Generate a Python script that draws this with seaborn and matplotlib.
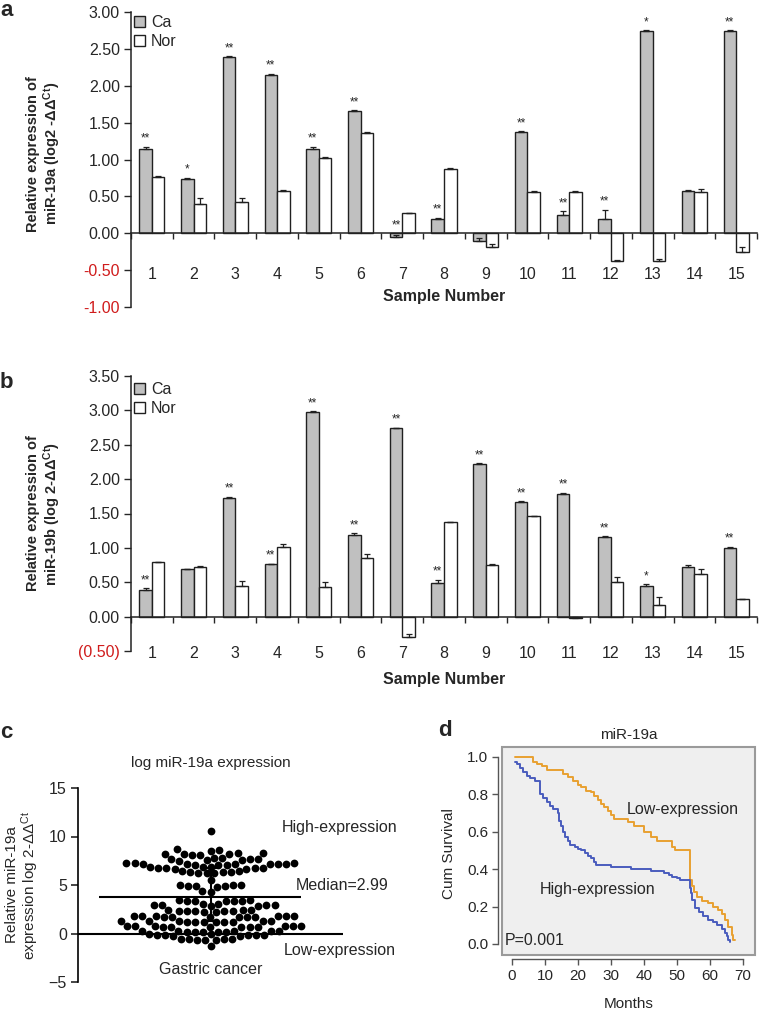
import numpy as np
import pandas as pd
import matplotlib
matplotlib.use("Agg")
import matplotlib.pyplot as plt
import seaborn as sns

samples = [str(i) for i in range(1, 16)]

# panel a - miR-19a, cancer vs normal
ca_19a = [1.14, 0.74, 2.39, 2.15, 1.14, 1.66, -0.05, 0.20, -0.10, 1.37, 0.25, 0.20, 2.74, 0.57, 2.74]
nor_19a = [0.76, 0.40, 0.42, 0.57, 1.02, 1.36, 0.27, 0.87, -0.18, 0.56, 0.56, -0.38, -0.38, 0.56, -0.25]
ca_19a_err = [0.03, 0.01, 0.01, 0.01, 0.03, 0.01, 0.03, 0.01, 0.04, 0.01, 0.05, 0.12, 0.01, 0.01, 0.01]
nor_19a_err = [0.01, 0.08, 0.06, 0.01, 0.01, 0.01, 0.01, 0.01, 0.04, 0.01, 0.01, 0.02, 0.03, 0.04, 0.07]
stars_19a = ["**", "*", "**", "**", "**", "**", "**", "**", "", "**", "**", "**", "*", "", "**"]

# panel b - miR-19b
ca_19b = [0.39, 0.69, 1.73, 0.76, 2.98, 1.19, 2.74, 0.49, 2.22, 1.67, 1.79, 1.16, 0.45, 0.72, 1.00]
nor_19b = [0.79, 0.72, 0.45, 1.01, 0.43, 0.85, -0.29, 1.37, 0.75, 1.46, -0.02, 0.51, 0.17, 0.62, 0.25]
ca_19b_err = [0.02, 0.01, 0.01, 0.01, 0.01, 0.02, 0.01, 0.05, 0.01, 0.01, 0.01, 0.01, 0.02, 0.03, 0.02]
nor_19b_err = [0.01, 0.01, 0.07, 0.05, 0.07, 0.06, 0.04, 0.01, 0.01, 0.01, 0.02, 0.07, 0.12, 0.08, 0.01]
stars_19b = ["**", "", "**", "**", "**", "**", "**", "**", "**", "**", "**", "**", "*", "", "**"]

# panel c - log miR-19a expression in gastric cancer
expr_19a = [
    10.6,
    8.5, 8.6, 8.7,
    8.1, 8.2, 8.3, 8.2, 8.1, 8.3, 8.2,
    7.6, 7.7, 7.8, 7.6, 7.7, 7.5, 7.7, 7.8,
    7.1, 7.2, 7.3, 7.2, 7.1, 7.3, 7.2, 7.2, 7.1, 7.3, 7.2, 7.2,
    6.8, 6.9, 6.7, 6.8, 6.9, 6.8, 6.7, 6.8, 6.9,
    6.2, 6.3, 6.4, 6.3, 6.2, 6.3, 6.4, 6.2,
    5.5,
    4.9, 5.0, 4.9, 5.0, 4.8, 5.0, 4.9,
    4.4, 4.3,
    3.4, 3.3, 3.5, 3.4, 3.3, 3.4, 3.5,
    2.9, 3.0, 2.8, 2.9, 3.0, 2.9, 2.8, 2.9,
    2.3, 2.4, 2.2, 2.3, 2.4, 2.3, 2.2, 2.3, 2.4, 2.3,
    1.7, 1.8, 1.7, 1.8, 1.7, 1.8, 1.7, 1.8, 1.7, 1.8, 1.7, 1.8,
    1.2, 1.3, 1.2, 1.3, 1.2, 1.3, 1.2, 1.3, 1.2, 1.3, 1.2,
    0.7, 0.8, 0.7, 0.8, 0.7, 0.8, 0.7, 0.8, 0.7, 0.8, 0.7, 0.8,
    0.2, 0.3, 0.2, 0.3, 0.2, 0.3, 0.2, 0.3, 0.2, 0.3,
    -0.2, -0.1, -0.2, -0.3, -0.2, -0.1, -0.2, -0.3, -0.2,
    -0.6, -0.7, -0.6, -0.7, -0.6, -0.7, -0.6,
    -1.3,
]
median_19a = 3.8
iqr_19a = [1.3, 6.8]

# panel d - Kaplan-Meier, miR-19a
low_months = [1, 6.5, 7.5, 9, 10.5, 15.5, 17, 18.5, 20, 21, 22.5, 24, 25, 26, 27, 28, 29, 30, 31, 35, 37,
              40, 42, 44, 48.5, 49.5, 54, 54.5, 55, 56, 57.5, 59.5, 61, 62.5, 63.5, 64.5, 65.5, 66.5, 67, 67.5]
low_surv = [1.0, 0.975, 0.96, 0.95, 0.93, 0.91, 0.89, 0.87, 0.85, 0.84, 0.82, 0.81, 0.79, 0.77, 0.75, 0.73, 0.71,
            0.69, 0.67, 0.65, 0.63, 0.60, 0.57, 0.55, 0.52, 0.50, 0.34, 0.31, 0.28, 0.25, 0.23, 0.22, 0.20, 0.18,
            0.16, 0.13, 0.09, 0.05, 0.02, 0.02]
high_months = [0.8, 1.5, 2.5, 3.5, 4.5, 5.5, 7, 8.4, 9.5, 10.5, 11.5, 12.5, 14, 14.4, 15, 15.5, 16, 17, 17.5, 19,
               20, 21, 22, 23, 24, 25, 25.5, 30, 36, 42, 46, 47.5, 48.5, 50, 51, 54, 54.3, 54.6, 55.5, 56.5, 58,
               59.5, 61, 62, 63.5, 64.5, 65, 65.5, 66]
high_surv = [0.975, 0.96, 0.94, 0.92, 0.90, 0.885, 0.87, 0.80, 0.78, 0.76, 0.74, 0.72, 0.70, 0.66, 0.63, 0.60, 0.57,
             0.55, 0.53, 0.52, 0.51, 0.50, 0.485, 0.47, 0.46, 0.44, 0.42, 0.41, 0.40, 0.39, 0.38, 0.37, 0.36, 0.35,
             0.34, 0.30, 0.27, 0.235, 0.19, 0.17, 0.15, 0.13, 0.12, 0.10, 0.08, 0.06, 0.04, 0.02, 0.01]

sns.set_style("ticks")
plt.rcParams["font.family"] = ["Liberation Sans", "DejaVu Sans"]
plt.rcParams["mathtext.fontset"] = "custom"
plt.rcParams["mathtext.rm"] = "Liberation Sans"
plt.rcParams["mathtext.bf"] = "Liberation Sans:bold"
plt.rcParams["mathtext.it"] = "Liberation Sans:italic"

W, H = 759, 1014
fig = plt.figure(figsize=(W / 100, H / 100), dpi=100)


def px_axes(left, top, right, bottom):
    return fig.add_axes([left / W, 1 - bottom / H, (right - left) / W, (bottom - top) / H])


def bar_panel(ax, ca, nor, ca_err, nor_err, stars, ylim, yticks, ylabels, ylabel, tick_pad, legend_y):
    df = pd.DataFrame({"sample": samples * 2,
                       "group": ["Ca"] * len(ca) + ["Nor"] * len(nor),
                       "value": ca + nor})
    sns.barplot(data=df, x="sample", y="value", hue="group",
                palette={"Ca": "#c0c0c0", "Nor": "white"}, width=0.6, gap=0,
                edgecolor="#202020", linewidth=1.0, errorbar=None, ax=ax)
    for cont, vals, errs in zip(ax.containers[:2], [ca, nor], [ca_err, nor_err]):
        xs = [p.get_x() + p.get_width() / 2 for p in cont.patches]
        ax.errorbar(xs, vals, yerr=[np.zeros(len(errs)), errs], fmt="none",
                    ecolor="#202020", elinewidth=0.9, capsize=2.5, capthick=0.9, zorder=3)
    ca_x = [p.get_x() + p.get_width() / 2 for p in ax.containers[0].patches]
    for x, v, e, s in zip(ca_x, ca, ca_err, stars):
        if s:
            ax.annotate(s, (x, max(v + e, 0)), xytext=(0, 1.5), textcoords="offset points",
                        ha="center", va="bottom", fontsize=8.5)

    ax.set_xlim(-0.5, 14.5)
    ax.set_ylim(*ylim)
    ax.set_yticks(yticks)
    ax.set_yticklabels(ylabels)
    for t, v in zip(ax.get_yticklabels(), yticks):
        if v < 0:
            t.set_color("#d01c1c")
    ax.tick_params(axis="y", length=5, width=1, labelsize=11.5, pad=3)
    ax.spines["bottom"].set_position(("data", 0))
    ax.set_xticks(np.arange(-0.5, 15, 1), minor=True)
    ax.tick_params(axis="x", which="major", length=0, labelsize=11.5, pad=tick_pad)
    ax.tick_params(axis="x", which="minor", length=4, width=1, direction="out")
    for sp in ["left", "bottom"]:
        ax.spines[sp].set_linewidth(1.1)
        ax.spines[sp].set_color("#222222")
    sns.despine(ax=ax)

    ax.set_xlabel("Sample Number", fontsize=11.5, fontweight="bold")
    ax.xaxis.set_label_coords(0.5, 0.062)
    ax.set_ylabel(ylabel, fontsize=10.5, fontweight="bold", linespacing=1.1)
    ax.yaxis.set_label_coords(-0.108, 0.52)

    handles, labels = ax.get_legend_handles_labels()
    ax.legend(handles, labels, loc="upper left", bbox_to_anchor=(0.0, legend_y), frameon=False,
              fontsize=11.5, handlelength=0.7, handleheight=0.7, handletextpad=0.35,
              labelspacing=0.25, borderaxespad=0.2, borderpad=0)


# ---- panel a
ax_a = px_axes(131, 12, 757, 307)
bar_panel(ax_a, ca_19a, nor_19a, ca_19a_err, nor_19a_err, stars_19a,
          (-1.0, 3.0), [-1.0, -0.5, 0, 0.5, 1.0, 1.5, 2.0, 2.5, 3.0],
          ["-1.00", "-0.50", "0.00", "0.50", "1.00", "1.50", "2.00", "2.50", "3.00"],
          "Relative expression of\nmiR-19a (log2 -ΔΔ$^{\\mathbf{Ct}}$)", 24, 1.0)

# ---- panel b
ax_b = px_axes(131, 376, 757, 651)
bar_panel(ax_b, ca_19b, nor_19b, ca_19b_err, nor_19b_err, stars_19b,
          (-0.5, 3.5), [-0.5, 0, 0.5, 1.0, 1.5, 2.0, 2.5, 3.0, 3.5],
          ["(0.50)", "0.00", "0.50", "1.00", "1.50", "2.00", "2.50", "3.00", "3.50"],
          "Relative expression of\nmiR-19b (log 2-ΔΔ$^{\\mathbf{Ct}}$)", 21, 0.99)
ax_b.xaxis.set_label_coords(0.5, -0.078)
ax_b.yaxis.set_label_coords(-0.108, 0.5)

# ---- panel c
ax_c = px_axes(78, 788, 343, 982)
ax_c.axhline(0, color="black", lw=1.5, zorder=1)
sns.swarmplot(y=expr_19a, color="black", size=5.6, ax=ax_c, zorder=2)
ax_c.hlines(median_19a, -0.42, 0.34, color="black", lw=1.5, zorder=3)
ax_c.errorbar([0], [median_19a], yerr=[[median_19a - iqr_19a[0]], [iqr_19a[1] - median_19a]],
              fmt="none", ecolor="black", elinewidth=1.5, capsize=4, capthick=1.5, zorder=3)
ax_c.set_xlim(-0.5, 0.5)
ax_c.set_ylim(-5, 15)
ax_c.set_yticks([-5, 0, 5, 10, 15])
ax_c.set_xticks([])
ax_c.tick_params(axis="y", length=5, width=1.2, labelsize=11.5, pad=3)
ax_c.spines["left"].set_linewidth(1.2)
ax_c.spines["left"].set_color("black")
sns.despine(ax=ax_c, bottom=True)
ax_c.set_ylabel("Relative miR-19a\nexpression log 2-ΔΔ$^{\\mathrm{Ct}}$", fontsize=11, linespacing=1.05)
ax_c.yaxis.set_label_coords(-0.14, 0.5)
ax_c.text(0.0, 17.6, "log miR-19a expression", ha="center", va="center", fontsize=11)
ax_c.text(0.27, 10.9, "High-expression", ha="left", va="center", fontsize=11.5)
ax_c.text(0.32, 4.95, "Median=2.99", ha="left", va="center", fontsize=11.5)
ax_c.text(0.275, -1.75, "Low-expression", ha="left", va="center", fontsize=11.5)
ax_c.text(0.0, -3.7, "Gastric cancer", ha="center", va="center", fontsize=11.5)

# ---- panel d
ax_d = px_axes(502, 747, 755, 955)
ax_d.set_facecolor("#efefef")
sns.lineplot(x=low_months, y=low_surv, drawstyle="steps-post", estimator=None,
             color="#e8a030", lw=1.4, ax=ax_d)
sns.lineplot(x=high_months, y=high_surv, drawstyle="steps-post", estimator=None,
             color="#4a5cbd", lw=1.4, ax=ax_d)
ax_d.set_xlim(-3.0, 73.6)
ax_d.set_ylim(-0.059, 1.053)
ax_d.set_xticks(range(0, 80, 10))
ax_d.set_yticks([0, 0.2, 0.4, 0.6, 0.8, 1.0])
ax_d.set_yticklabels(["0.0", "0.2", "0.4", "0.6", "0.8", "1.0"])
ax_d.tick_params(length=4, width=1, labelsize=11, color="#555555", pad=3)
sns.despine(ax=ax_d, offset=3)
ax_d.spines["left"].set_bounds(0, 1)
ax_d.spines["bottom"].set_bounds(0, 70)
for sp in ["left", "bottom"]:
    ax_d.spines[sp].set_color("#555555")
    ax_d.spines[sp].set_linewidth(1.0)
ax_d.patch.set_edgecolor("#9a9a9a")
ax_d.patch.set_linewidth(1.5)
ax_d.set_xlabel("Months", fontsize=11)
ax_d.xaxis.set_label_coords(0.5, -0.2)
ax_d.set_ylabel("Cum Survival", fontsize=11)
ax_d.yaxis.set_label_coords(-0.18, 0.49)
ax_d.set_title("miR-19a", fontsize=11, pad=6)
ax_d.text(34.8, 0.72, "Low-expression", ha="left", va="center", fontsize=11.5)
ax_d.text(8.5, 0.29, "High-expression", ha="left", va="center", fontsize=11.5)
ax_d.text(-2.1, 0.02, "P=0.001", ha="left", va="center", fontsize=11.5)

# panel letters
for lbl, x, y in [("a", 0, 10), ("b", 0, 383), ("c", 0, 732), ("d", 438, 730)]:
    fig.text(x / W, 1 - y / H, lbl, fontsize=16, fontweight="bold", ha="left", va="center")

fig.savefig("out.png", dpi=100)
